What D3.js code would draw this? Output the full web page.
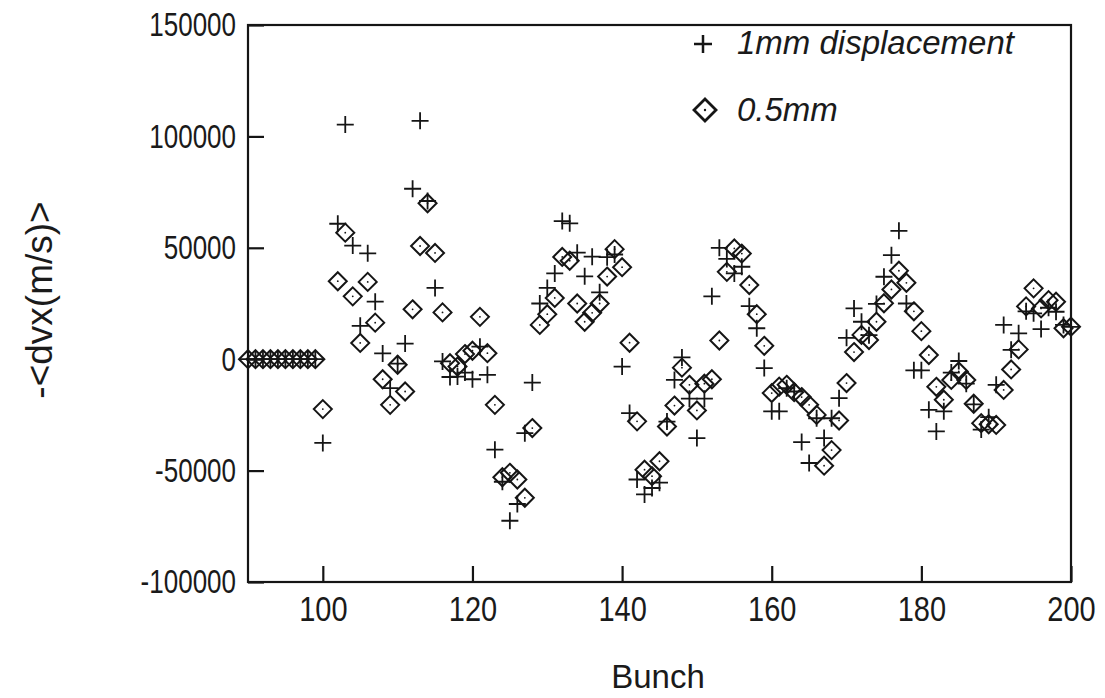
<!DOCTYPE html>
<html><head><meta charset="utf-8">
<script src="https://cdn.jsdelivr.net/npm/d3@7"></script>
<style>body{margin:0;background:#fff}svg text{font-family:"Liberation Sans",Arial,sans-serif;fill:#1a1a1a}</style>
</head><body>
<svg id="c" width="1105" height="698"></svg>
<script>
const bunches = d3.range(90, 201);
const cross1mm = [0,0,0,0,0,0,0,0,0,0,
-37600,null,60800,105300,51000,15000,47500,25800,2600,-13000,
-2000,7000,76500,107000,71000,32000,-1000,-8000,-7800,-6000,
-9000,5600,-7000,-40600,-55000,-72500,-65000,-33200,-10500,25000,
32000,38500,62000,61000,47800,37200,46000,30000,45800,47000,
-3300,-24200,-54000,-60700,-57800,-55400,-28000,-9300,800,-17700,
-35400,-17700,28200,50000,45000,38500,41500,23800,13900,-4000,
-23400,-23400,-13000,-14500,-37200,-46600,-26500,-35400,-26500,-17500,
9600,22800,16800,10800,24800,37000,46700,57600,25000,-5000,
-5000,-22700,-32400,-23400,-6000,-800,-11000,-20300,-31600,-26000,
-11500,15400,4200,11600,21500,20600,13500,23100,21300,15400,
14500];
const diamond05mm = [0,0,0,0,0,0,0,0,0,0,
-22400,null,35000,56800,28200,7300,34700,16400,-9000,-20500,
-2500,-14500,22400,50800,70000,47700,21000,-1800,-3300,2300,
3800,19000,2700,-20500,-53000,-51000,-54000,-62200,-30900,15400,
20200,27500,45900,44200,25000,16800,20800,25000,37100,49400,
41300,7400,-27900,-49600,-52500,-45800,-30200,-20800,-3800,-11500,
-23000,-11000,-9000,8400,39200,49700,47400,33300,20200,6000,
-15200,-12300,-11500,-14800,-17000,-20500,-25000,-47800,-40800,-27500,
-10700,3200,10900,8600,16800,25100,31300,39700,34300,21500,
12600,1900,-12400,-18200,-9300,-5500,-9300,-20000,-28700,-29200,
-29500,-13800,-4600,4400,23700,31800,22800,26500,25800,13900,
14600];
const xTicks = [100,120,140,160,180,200];
const yTicks = [-100000,-50000,0,50000,100000,150000];
const legendLabels = ["1mm displacement","0.5mm"];

const svg = d3.select("#c");
const L=248,R=1071,T=25,B=582;
const x = d3.scaleLinear().domain([90,200]).range([L,R]);
const y = d3.scaleLinear().domain([-100000,150000]).range([B,T]);
const ink="#151515";

// axes
const ax = svg.append("g").attr("transform",`translate(0,${B})`)
  .call(d3.axisBottom(x).tickValues(xTicks).tickSize(-16).tickPadding(12).tickFormat(d3.format("d")));
const ay = svg.append("g").attr("transform",`translate(${L},0)`)
  .call(d3.axisLeft(y).tickValues(yTicks).tickSize(-16).tickPadding(12).tickFormat(d3.format("d")));
[ax,ay].forEach(g=>{
  g.select(".domain").remove();
  g.selectAll("line").attr("stroke",ink).attr("stroke-width",2.2);
  g.selectAll("text").attr("fill","#1a1a1a");
});
ax.selectAll("text").style("font-size","29px").attr("transform","scale(1,1.2)");
ay.selectAll("text").style("font-size","26px").attr("transform","scale(1,1.3)");
ay.selectAll("text").text(d=>d<0?"-"+Math.abs(d):d);
svg.append("rect").attr("x",L).attr("y",T).attr("width",R-L).attr("height",B-T)
  .attr("fill","none").attr("stroke",ink).attr("stroke-width",2.2);

svg.append("text").attr("x",658).attr("y",688).attr("text-anchor","middle").style("font-size","33px").text("Bunch");
svg.append("text").attr("transform","translate(52,300) rotate(-90)").attr("text-anchor","middle").style("font-size","37px").text("-<dvx(m/s)>");

// markers
const pts1 = bunches.map((b,i)=>({b,v:cross1mm[i]})).filter(d=>d.v!==null);
const pts2 = bunches.map((b,i)=>({b,v:diamond05mm[i]})).filter(d=>d.v!==null);
const cs=8.5, ds=9;
const crossPath = `M${-cs},0H${cs}M0,${-cs}V${cs}`;
const diaPath = `M0,${-ds}L${ds},0L0,${ds}L${-ds},0Z`;
svg.append("g").selectAll("path").data(pts2).join("path")
  .attr("transform",d=>`translate(${x(d.b)},${y(d.v)})`).attr("d",diaPath)
  .attr("fill","none").attr("stroke",ink).attr("stroke-width",2);
svg.append("g").selectAll("circle").data(pts2).join("circle")
  .attr("cx",d=>x(d.b)).attr("cy",d=>y(d.v)).attr("r",0.9).attr("fill",ink);
svg.append("g").selectAll("path").data(pts1).join("path")
  .attr("transform",d=>`translate(${x(d.b)},${y(d.v)})`).attr("d",crossPath)
  .attr("fill","none").attr("stroke",ink).attr("stroke-width",1.8);

// legend
const lg = svg.append("g");
lg.append("path").attr("transform","translate(703,44)").attr("d",`M-9,0H9M0,-9V9`).attr("stroke",ink).attr("stroke-width",2.5).attr("fill","none");
lg.append("path").attr("transform","translate(705,110)").attr("d",`M0,-11L11,0L0,11L-11,0Z`).attr("stroke",ink).attr("stroke-width",2.8).attr("fill","none");
lg.append("circle").attr("cx",705).attr("cy",110).attr("r",1.2).attr("fill",ink);
lg.append("text").attr("x",737).attr("y",54).style("font-size","33px").style("font-style","italic").text(legendLabels[0]);
lg.append("text").attr("x",737).attr("y",121).style("font-size","33px").style("font-style","italic").text(legendLabels[1]);
</script>
</body></html>
